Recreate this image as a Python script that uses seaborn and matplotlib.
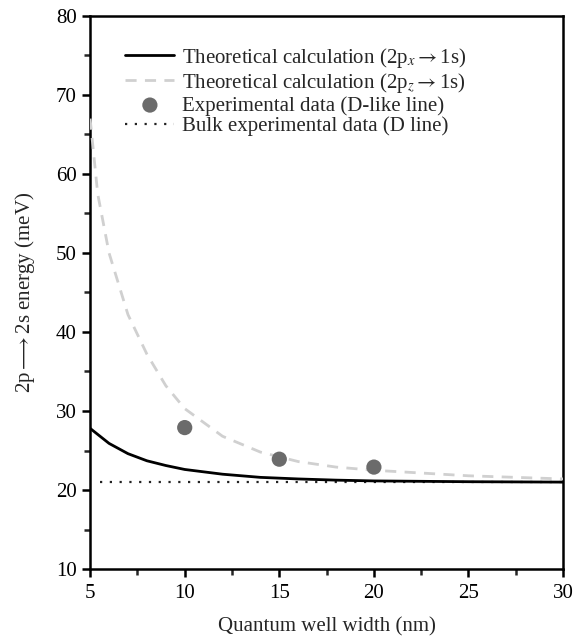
import numpy as np
import pandas as pd
import seaborn as sns
import matplotlib.pyplot as plt
from matplotlib.ticker import MultipleLocator

sns.set_theme(style="ticks")
plt.rcParams['font.family'] = ['Liberation Serif', 'DejaVu Sans']
plt.rcParams['mathtext.fontset'] = 'stix'

# Theoretical calculation (2px -> 1s)
px_width = [5, 6, 7, 8, 9, 10, 12, 14, 16, 18, 20, 25, 30]
px_energy = [27.8, 25.9, 24.6, 23.7, 23.1, 22.6, 22.0, 21.6, 21.4, 21.25, 21.15, 21.05, 21.0]

# Theoretical calculation (2pz -> 1s)
pz_width = [5, 5.4, 6, 7, 8, 9, 10, 12, 14, 16, 18, 20, 25, 30]
pz_energy = [67.0, 57.5, 50.0, 42.2, 37.2, 33.2, 30.3, 26.8, 24.8, 23.6, 22.9, 22.5, 21.8, 21.4]

# Experimental data (D-like line)
exp_width = [10, 15, 20]
exp_energy = [27.9, 23.9, 22.9]

# Bulk experimental data (D line)
bulk_width = [5.5, 30]
bulk_energy = [21.0, 21.0]

fig = plt.figure(figsize=(5.74, 6.36), dpi=100)
ax = fig.add_axes([0.157, 0.1053, 0.824, 0.8697])

sns.lineplot(x=bulk_width, y=bulk_energy, ax=ax, color='#222222', lw=1.6,
             linestyle=(0, (1, 3.4)), label='Bulk experimental data (D line)', zorder=2)
sns.lineplot(x=pz_width, y=pz_energy, ax=ax, color='#d0d0d0', lw=2,
             linestyle=(0, (4, 3)), label=r'Theoretical calculation (2p$_z$$\rightarrow$1s)', zorder=3)
sns.lineplot(x=px_width, y=px_energy, ax=ax, color='black', lw=2,
             label=r'Theoretical calculation (2p$_x$$\rightarrow$1s)', zorder=4)
sns.scatterplot(x=exp_width, y=exp_energy, ax=ax, color='#6b6b6b', s=120,
                edgecolor='none', label='Experimental data (D-like line)', zorder=5)

ax.set_xlim(5, 30)
ax.set_ylim(10, 80)
ax.xaxis.set_major_locator(MultipleLocator(5))
ax.xaxis.set_minor_locator(MultipleLocator(2.5))
ax.yaxis.set_major_locator(MultipleLocator(10))
ax.yaxis.set_minor_locator(MultipleLocator(5))
ax.tick_params(which='major', length=6, width=1.8, direction='out', labelsize=15, colors='black')
ax.tick_params(which='minor', length=4, width=1.8, direction='out')
ax.tick_params(axis='x', pad=5)
for s in ax.spines.values():
    s.set_linewidth(1.8)
    s.set_color('black')

ax.set_xlabel('Quantum well width (nm)', fontsize=15, labelpad=10)
ax.set_ylabel(r'2p$\longrightarrow$2s energy (meV)', fontsize=15, labelpad=14)

handles, labels = ax.get_legend_handles_labels()
order = [2, 1, 3, 0]
ax.legend([handles[i] for i in order], [labels[i] for i in order],
          loc='upper left', bbox_to_anchor=(0.035, 0.98), frameon=False,
          fontsize=15, handlelength=2.35, handletextpad=0.35, labelspacing=0.05)

fig.savefig('out.png', dpi=100)
